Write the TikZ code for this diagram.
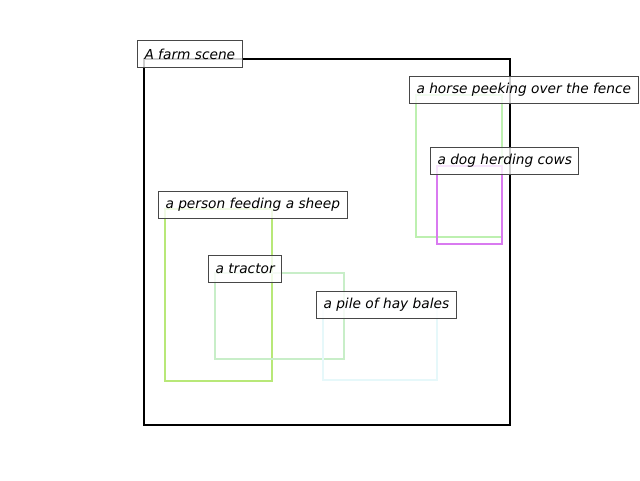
\documentclass[tikz,border=0pt]{standalone}
\usepackage{fontspec}
\setmainfont{DejaVu Sans}
\begin{document}
\begin{tikzpicture}[x=0.75pt,y=-0.75pt]
    % whole picture, in px of the image
    \useasboundingbox (0,0) rectangle (640,480);
    % colours of the regions
    \definecolor{personc}{HTML}{B8E878}
    \definecolor{horsec}{HTML}{BDF0B0}
    \definecolor{dogc}{HTML}{D97AF0}
    \definecolor{tractorc}{HTML}{C8EEC8}
    \definecolor{hayc}{HTML}{E6F8FA}
    % style definitions
    \tikzstyle{region} = [line width=2pt];
    \tikzstyle{caption} = [
    	draw=black!72, fill=white, fill opacity=0.8, text opacity=1,
    	line width=0.75pt, anchor=west, inner xsep=5.25pt,
    	minimum height=20.5pt,
    	font=\fontsize{10.3}{12}\selectfont\itshape ];
    % the scene
    \draw[region, black] (144,59) rectangle (510,425);
    % regions: left, top, right, bottom
    \draw[region, horsec] (416,95) rectangle (502,237);
    \draw[region, dogc] (437,166) rectangle (502,244);
    \draw[region, personc] (165,209) rectangle (272,381);
    \draw[region, tractorc] (215,273) rectangle (344,359);
    \draw[region, hayc] (323,308) rectangle (437,380);
    % captions
    \node[caption] (scene) at (137,54) {A farm scene};
    \node[caption] (horse) at (409,90) {a horse peeking over the fence};
    \node[caption] (dog) at (430,161) {a dog herding cows};
    \node[caption] (person) at (158,205) {a person feeding a sheep};
    \node[caption] (tractor) at (208,269) {a tractor};
    \node[caption] (hay) at (316,305) {a pile of hay bales};
\end{tikzpicture}
\end{document}
